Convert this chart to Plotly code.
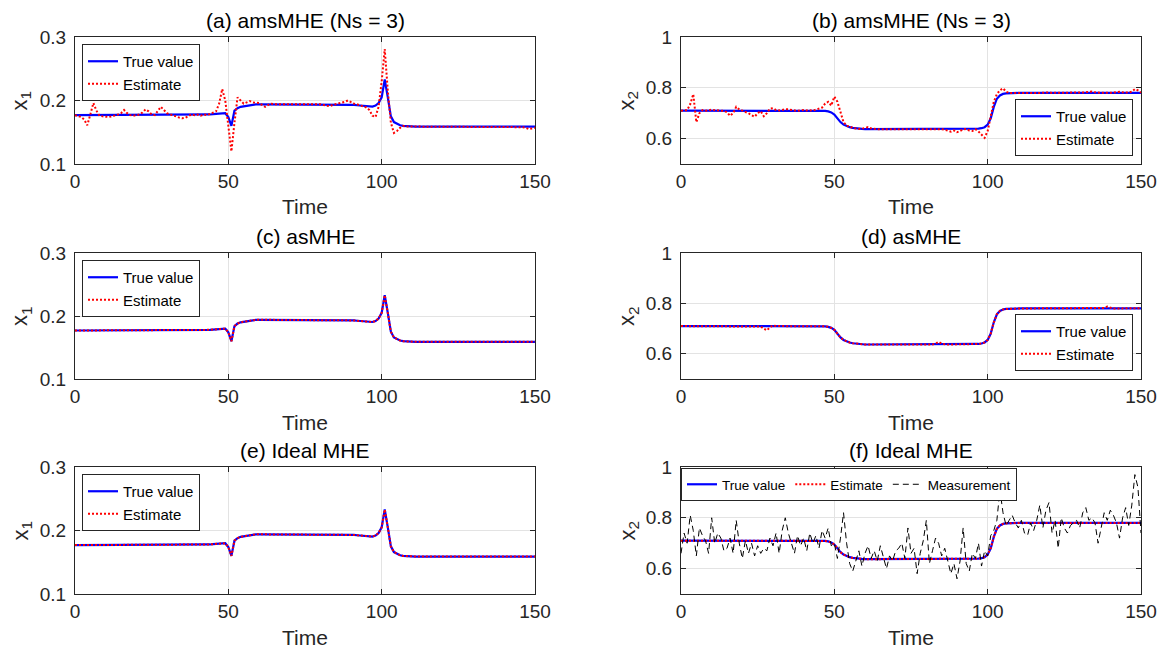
import plotly.graph_objects as go

# ---------------- data ----------------
time = list(range(151))

# true state x1 (panels a, c, e)
x1_true = [
    0.177, 0.177, 0.177, 0.177, 0.177, 0.177, 0.177, 0.177, 0.177, 0.177,
    0.177, 0.177, 0.177, 0.177, 0.177, 0.177, 0.177, 0.177, 0.177, 0.177,
    0.177, 0.177, 0.177, 0.177, 0.177, 0.177, 0.177, 0.177, 0.177, 0.177,
    0.177, 0.177, 0.177, 0.177, 0.177, 0.177, 0.177, 0.177, 0.177, 0.177,
    0.177, 0.177, 0.1775, 0.178, 0.178, 0.1785, 0.179, 0.1795, 0.180, 0.180,
    0.174, 0.160, 0.184, 0.188, 0.190, 0.191, 0.192, 0.193, 0.1935, 0.194,
    0.194, 0.194, 0.194, 0.194, 0.194, 0.194, 0.194, 0.194, 0.194, 0.194,
    0.194, 0.194, 0.194, 0.194, 0.194, 0.194, 0.194, 0.194, 0.194, 0.194,
    0.194, 0.194, 0.194, 0.194, 0.194, 0.194, 0.194, 0.194, 0.194, 0.1938,
    0.1935, 0.193, 0.1925, 0.192, 0.1915, 0.191, 0.1905, 0.1905, 0.192, 0.196,
    0.205, 0.233, 0.205, 0.175, 0.166, 0.163, 0.161, 0.160, 0.1595, 0.159,
    0.159, 0.159, 0.159, 0.159, 0.159, 0.159, 0.159, 0.159, 0.159, 0.159,
    0.159, 0.159, 0.159, 0.159, 0.159, 0.159, 0.159, 0.159, 0.159, 0.159,
    0.159, 0.159, 0.159, 0.159, 0.159, 0.159, 0.159, 0.159, 0.159, 0.159,
    0.159, 0.159, 0.159, 0.159, 0.159, 0.159, 0.159, 0.159, 0.159, 0.159,
    0.159,
]

# amsMHE estimate of x1 (panel a)
x1_est_ams = [
    0.177, 0.176, 0.174, 0.170, 0.161, 0.178, 0.196, 0.184, 0.176, 0.175,
    0.174, 0.174, 0.175, 0.176, 0.178, 0.180, 0.185, 0.180, 0.177, 0.176,
    0.177, 0.178, 0.181, 0.186, 0.183, 0.178, 0.177, 0.184, 0.190, 0.185,
    0.180, 0.178, 0.177, 0.175, 0.173, 0.172, 0.173, 0.176, 0.178, 0.177,
    0.178, 0.176, 0.178, 0.177, 0.179, 0.180, 0.183, 0.195, 0.218, 0.200,
    0.158, 0.120, 0.165, 0.205, 0.200, 0.195, 0.197, 0.199, 0.197, 0.196,
    0.196, 0.193, 0.190, 0.193, 0.195, 0.194, 0.194, 0.194, 0.195, 0.194,
    0.194, 0.194, 0.194, 0.194, 0.194, 0.194, 0.194, 0.194, 0.194, 0.194,
    0.194, 0.193, 0.192, 0.191, 0.193, 0.194, 0.195, 0.196, 0.198, 0.200,
    0.197, 0.195, 0.194, 0.192, 0.190, 0.189, 0.185, 0.176, 0.174, 0.190,
    0.230, 0.281, 0.215, 0.165, 0.149, 0.152, 0.157, 0.160, 0.159, 0.159,
    0.159, 0.159, 0.159, 0.159, 0.159, 0.159, 0.159, 0.159, 0.159, 0.159,
    0.159, 0.159, 0.159, 0.159, 0.159, 0.159, 0.159, 0.159, 0.159, 0.159,
    0.159, 0.159, 0.159, 0.159, 0.159, 0.159, 0.159, 0.159, 0.159, 0.159,
    0.159, 0.159, 0.159, 0.159, 0.159, 0.158, 0.158, 0.157, 0.155, 0.156,
    0.157,
]

# asMHE / ideal MHE estimates of x1 coincide with the true value at this resolution
x1_est_as = x1_true
x1_est_ideal = x1_true

# true state x2 (panels b, d, f)
x2_true = [
    0.710, 0.710, 0.710, 0.710, 0.710, 0.710, 0.710, 0.710, 0.710, 0.710,
    0.710, 0.710, 0.710, 0.710, 0.710, 0.710, 0.710, 0.710, 0.710, 0.710,
    0.710, 0.710, 0.710, 0.710, 0.710, 0.710, 0.710, 0.710, 0.710, 0.710,
    0.710, 0.710, 0.710, 0.710, 0.710, 0.710, 0.710, 0.710, 0.710, 0.710,
    0.710, 0.710, 0.710, 0.710, 0.710, 0.710, 0.710, 0.709, 0.707, 0.703,
    0.695, 0.680, 0.665, 0.655, 0.649, 0.645, 0.642, 0.640, 0.639, 0.638,
    0.637, 0.637, 0.637, 0.637, 0.637, 0.637, 0.637, 0.637, 0.637, 0.637,
    0.637, 0.637, 0.637, 0.637, 0.637, 0.637, 0.637, 0.637, 0.637, 0.637,
    0.637, 0.637, 0.637, 0.637, 0.637, 0.637, 0.637, 0.637, 0.637, 0.637,
    0.637, 0.637, 0.637, 0.637, 0.637, 0.637, 0.638, 0.639, 0.641, 0.645,
    0.655, 0.680, 0.725, 0.757, 0.770, 0.776, 0.778, 0.779, 0.780, 0.780,
    0.780, 0.780, 0.780, 0.780, 0.780, 0.780, 0.780, 0.780, 0.780, 0.780,
    0.780, 0.780, 0.780, 0.780, 0.780, 0.780, 0.780, 0.780, 0.780, 0.780,
    0.780, 0.780, 0.780, 0.780, 0.780, 0.780, 0.780, 0.780, 0.780, 0.780,
    0.780, 0.780, 0.780, 0.780, 0.780, 0.780, 0.780, 0.780, 0.780, 0.780,
    0.780,
]

# amsMHE estimate of x2 (panel b)
x2_est_ams = [
    0.710, 0.711, 0.712, 0.735, 0.775, 0.665, 0.700, 0.712, 0.710, 0.711,
    0.714, 0.712, 0.711, 0.710, 0.709, 0.704, 0.690, 0.700, 0.725, 0.715,
    0.710, 0.708, 0.700, 0.692, 0.686, 0.700, 0.708, 0.688, 0.700, 0.718,
    0.720, 0.712, 0.711, 0.713, 0.716, 0.715, 0.713, 0.710, 0.709, 0.711,
    0.713, 0.711, 0.712, 0.710, 0.714, 0.716, 0.722, 0.738, 0.745, 0.730,
    0.765, 0.745, 0.700, 0.665, 0.650, 0.648, 0.642, 0.640, 0.638, 0.639,
    0.643, 0.645, 0.640, 0.637, 0.637, 0.637, 0.637, 0.637, 0.637, 0.637,
    0.637, 0.637, 0.637, 0.637, 0.637, 0.637, 0.637, 0.637, 0.637, 0.637,
    0.637, 0.638, 0.636, 0.637, 0.638, 0.637, 0.635, 0.630, 0.627, 0.632,
    0.625, 0.630, 0.636, 0.638, 0.632, 0.630, 0.637, 0.628, 0.615, 0.603,
    0.630, 0.690, 0.745, 0.775, 0.790, 0.798, 0.785, 0.779, 0.780, 0.781,
    0.780, 0.780, 0.780, 0.781, 0.780, 0.780, 0.779, 0.780, 0.780, 0.781,
    0.782, 0.780, 0.780, 0.780, 0.780, 0.781, 0.780, 0.780, 0.780, 0.780,
    0.780, 0.781, 0.782, 0.784, 0.785, 0.782, 0.780, 0.780, 0.781, 0.780,
    0.780, 0.781, 0.783, 0.784, 0.782, 0.780, 0.781, 0.785, 0.795, 0.790,
    0.781,
]

# asMHE estimate of x2 (panel d)
x2_est_as = [
    0.710, 0.710, 0.710, 0.710, 0.710, 0.710, 0.710, 0.710, 0.710, 0.710,
    0.710, 0.710, 0.710, 0.710, 0.710, 0.710, 0.710, 0.710, 0.710, 0.710,
    0.710, 0.710, 0.710, 0.710, 0.710, 0.710, 0.708, 0.700, 0.693, 0.705,
    0.712, 0.710, 0.710, 0.710, 0.710, 0.710, 0.710, 0.710, 0.710, 0.710,
    0.710, 0.710, 0.710, 0.710, 0.710, 0.710, 0.710, 0.709, 0.707, 0.703,
    0.695, 0.680, 0.665, 0.655, 0.649, 0.645, 0.642, 0.640, 0.639, 0.638,
    0.637, 0.637, 0.637, 0.637, 0.637, 0.637, 0.637, 0.637, 0.637, 0.637,
    0.637, 0.637, 0.637, 0.637, 0.637, 0.637, 0.637, 0.637, 0.637, 0.637,
    0.637, 0.637, 0.637, 0.640, 0.647, 0.640, 0.637, 0.637, 0.637, 0.637,
    0.637, 0.637, 0.637, 0.637, 0.637, 0.637, 0.638, 0.639, 0.641, 0.645,
    0.655, 0.680, 0.725, 0.757, 0.770, 0.776, 0.778, 0.779, 0.780, 0.780,
    0.780, 0.780, 0.780, 0.780, 0.780, 0.780, 0.780, 0.780, 0.780, 0.780,
    0.780, 0.780, 0.780, 0.780, 0.780, 0.780, 0.780, 0.780, 0.780, 0.780,
    0.780, 0.780, 0.780, 0.780, 0.780, 0.780, 0.780, 0.780, 0.782, 0.787,
    0.783, 0.780, 0.780, 0.780, 0.780, 0.780, 0.780, 0.780, 0.780, 0.780,
    0.781,
]

x2_est_ideal = x2_true

# noisy measurement of x2 (panel f)
x2_meas = [
    0.66, 0.74, 0.70, 0.81, 0.75, 0.65, 0.76, 0.73, 0.71, 0.66,
    0.80, 0.70, 0.74, 0.72, 0.67, 0.68, 0.72, 0.66, 0.79, 0.70,
    0.64, 0.71, 0.66, 0.70, 0.65, 0.69, 0.66, 0.68, 0.67, 0.72,
    0.69, 0.74, 0.66, 0.75, 0.80, 0.74, 0.70, 0.66, 0.73, 0.69,
    0.72, 0.67, 0.74, 0.70, 0.73, 0.68, 0.75, 0.72, 0.76, 0.69,
    0.70, 0.64, 0.72, 0.82, 0.70, 0.62, 0.59, 0.63, 0.67, 0.61,
    0.66, 0.69, 0.64, 0.67, 0.63, 0.69, 0.65, 0.60, 0.65, 0.63,
    0.67, 0.68, 0.70, 0.64, 0.76, 0.66, 0.68, 0.58, 0.66, 0.71,
    0.79, 0.62, 0.67, 0.72, 0.70, 0.65, 0.68, 0.63, 0.58, 0.62,
    0.56, 0.63, 0.76, 0.62, 0.59, 0.66, 0.64, 0.70, 0.61, 0.67,
    0.65, 0.73, 0.75, 0.79, 0.91, 0.82, 0.77, 0.79, 0.81, 0.78,
    0.76, 0.79, 0.74, 0.73, 0.78, 0.75, 0.79, 0.85, 0.76, 0.83,
    0.86, 0.74, 0.79, 0.68, 0.80, 0.76, 0.74, 0.77, 0.78, 0.79,
    0.76, 0.82, 0.84, 0.79, 0.80, 0.78, 0.70, 0.76, 0.82, 0.79,
    0.83, 0.81, 0.78, 0.72, 0.80, 0.84, 0.77, 0.85, 0.97, 0.92,
    0.74,
]

titles = ["(a) amsMHE (Ns = 3)", "(b) amsMHE (Ns = 3)", "(c) asMHE",
          "(d) asMHE", "(e) Ideal MHE", "(f) Ideal MHE"]
x_ticks = [0, 50, 100, 150]
x1_ticks = [0.1, 0.2, 0.3]
x1_tick_text = ["0.1", "0.2", "0.3"]
x2_ticks = [0.6, 0.8, 1.0]
x2_tick_text = ["0.6", "0.8", "1"]

# ---------------- styling / layout ----------------
FONT = "Liberation Sans, Arial, Helvetica, sans-serif"
AX = "#262626"
GRID = "#e3e3e3"
W, H = 1158, 648

col_px = [(75, 535), (681, 1141)]
row_px = [(37, 164), (253, 379), (467, 594)]


def fx(p):
    return p / W


def fy(p):
    return 1 - p / H


panel_data = [
    (x1_true, x1_est_ams, None),
    (x2_true, x2_est_ams, None),
    (x1_true, x1_est_as, None),
    (x2_true, x2_est_as, None),
    (x1_true, x1_est_ideal, None),
    (x2_true, x2_est_ideal, x2_meas),
]

fig = go.Figure()
layout = dict(
    width=W, height=H, margin=dict(l=0, r=0, t=0, b=0, autoexpand=False),
    paper_bgcolor="white", plot_bgcolor="white",
    font=dict(family=FONT, color=AX),
    hovermode=False,
    annotations=[],
)

for i, (tru, est, meas) in enumerate(panel_data):
    r, c = divmod(i, 2)
    n = "" if i == 0 else str(i + 1)
    xa, ya = "x" + n, "y" + n
    lg = "legend" + n
    fig.add_trace(go.Scatter(x=time, y=tru, mode="lines", name="True value",
                             line=dict(color="#0000ff", width=2.2),
                             xaxis=xa, yaxis=ya, legend=lg))
    fig.add_trace(go.Scatter(x=time, y=est, mode="lines", name="Estimate",
                             line=dict(color="#ff0000", width=2, dash="2px,2px"),
                             xaxis=xa, yaxis=ya, legend=lg))
    if meas is not None:
        fig.add_trace(go.Scatter(x=time, y=meas, mode="lines", name="Measurement",
                                 line=dict(color="black", width=1, dash="6px,4px"),
                                 xaxis=xa, yaxis=ya, legend=lg))

    x0, x1p = col_px[c]
    y0, y1p = row_px[r]
    common = dict(showline=True, linecolor=AX, linewidth=1, mirror="ticks",
                  ticks="inside", ticklen=5, tickcolor=AX, showgrid=True,
                  gridcolor=GRID, gridwidth=1, zeroline=False, automargin=False,
                  tickfont=dict(family=FONT, size=19, color=AX))
    layout["xaxis" + n] = dict(domain=[fx(x0), fx(x1p)], range=[0, 150],
                               tickvals=x_ticks, anchor=ya, **common)
    if c == 0:
        layout["yaxis" + n] = dict(domain=[fy(y1p), fy(y0)], range=[0.1, 0.3],
                                   tickvals=x1_ticks, ticktext=x1_tick_text,
                                   anchor=xa, ticklabelstandoff=4, **common)
        ylab = "x<sub>1</sub>"
        ylab_x = 21
    else:
        layout["yaxis" + n] = dict(domain=[fy(y1p), fy(y0)], range=[0.5, 1.0],
                                   tickvals=x2_ticks, ticktext=x2_tick_text,
                                   anchor=xa, ticklabelstandoff=4, **common)
        ylab = "x<sub>2</sub>"
        ylab_x = 628

    # title
    layout["annotations"].append(dict(
        text=titles[i], x=fx((x0 + x1p) / 2), y=fy(y0 - 3), xref="paper", yref="paper",
        xanchor="center", yanchor="bottom", showarrow=False,
        font=dict(family=FONT, size=21, color="black")))
    # x label
    layout["annotations"].append(dict(
        text="Time", x=fx((x0 + x1p) / 2), y=fy(y1p + 43), xref="paper", yref="paper",
        xanchor="center", yanchor="middle", showarrow=False,
        font=dict(family=FONT, size=21, color=AX)))
    # y label
    layout["annotations"].append(dict(
        text=ylab, x=fx(ylab_x), y=fy((y0 + y1p) / 2), xref="paper", yref="paper",
        xanchor="center", yanchor="middle", showarrow=False, textangle=-90,
        font=dict(family=FONT, size=22, color=AX)))

    leg = dict(bgcolor="white", bordercolor=AX, borderwidth=1,
               font=dict(family=FONT, size=15, color="black"),
               itemwidth=30, tracegroupgap=0, xref="paper", yref="paper",
               traceorder="normal")
    if i in (0, 2, 4):
        leg.update(x=fx(x0 + 7), y=fy(y0 + 7), xanchor="left", yanchor="top",
                   orientation="v")
    elif i in (1, 3):
        leg.update(x=fx(x1p - 8), y=fy(y1p - 8), xanchor="right", yanchor="bottom",
                   orientation="v")
    else:
        leg.update(x=fx(x0 + 0), y=fy(y0 + 1), xanchor="left", yanchor="top",
                   orientation="h", font=dict(family=FONT, size=13.5, color="black"))
    layout[lg] = leg

fig.update_layout(**layout)
fig.write_html(
    "out.html",
    config={"displayModeBar": False, "staticPlot": True},
    post_script="document.body.style.margin='0';document.body.style.overflow='hidden';",
)
